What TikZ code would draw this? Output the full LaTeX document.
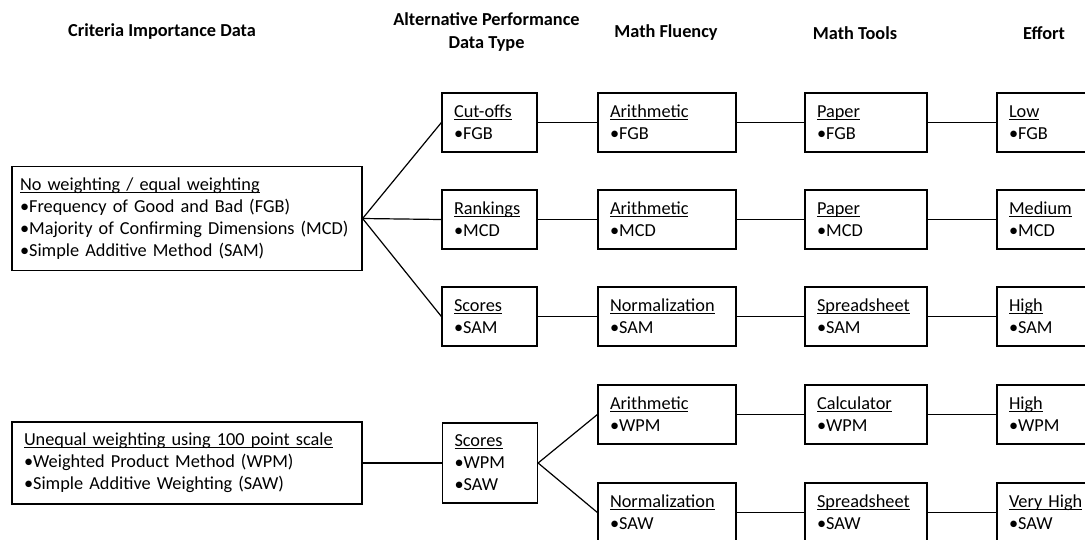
\documentclass[tikz,border=0pt]{standalone}
\usepackage{fontspec}
\setmainfont{Carlito}
\newcommand\uln[1]{\setbox0=\hbox{#1}\rlap{\rule[-2.4pt]{\wd0}{1.1pt}}\box0}
\begin{document}
\begin{tikzpicture}[x=1pt,y=-1pt,
  box/.style={draw, line width=1.2pt, align=left, inner xsep=12pt, inner ysep=0pt,
    font=\fontsize{18.3}{22}\selectfont},
  head/.style={align=center, inner sep=0pt, font=\fontsize{18.3}{24}\selectfont\bfseries},
  conn/.style={line width=1.2pt},
  colA/.style={box, inner xsep=8pt, text width=334pt, minimum width=350pt},
  colB/.style={box, text width=71pt, minimum width=95pt, minimum height=59pt},
  colC/.style={box, text width=114pt, minimum width=138pt, minimum height=59pt},
  colD/.style={box, text width=98pt, minimum width=122pt, minimum height=59pt},
  colE/.style={box, text width=86pt, minimum width=110pt, minimum height=59pt}]
\clip (0,0) rectangle (1085,539);
\fill[white] (0,0) rectangle (1085,539);
% headers
\node[head] (h1) at (162,32) {Criteria Importance Data};
\node[head] (h2) at (486.5,32) {Alternative Performance\\Data Type};
\node[head] (h3) at (666,33) {Math Fluency};
\node[head] (h4) at (855,33) {Math Tools};
\node[head] (h5) at (1044,33) {Effort};
% left boxes
\node[colA, minimum height=104pt] (a1) at (187,218.5)
  {\mbox{\uln{No weighting / equal weighting}}\\\mbox{•Frequency of Good and Bad (FGB)}\\\mbox{•Majority of Confirming Dimensions (MCD)}\\\mbox{•Simple Additive Method (SAM)}};
\node[colA, inner xsep=12pt, text width=326pt, minimum height=82pt] (a2) at (187,463)
  {\mbox{\uln{Unequal weighting using 100 point scale}}\\\mbox{•Weighted Product Method (WPM)}\\\mbox{•Simple Additive Weighting (SAW)}};
% column B
\node[colB] (b1) at (489.5,122.5) {\uln{Cut-offs}\\•FGB};
\node[colB] (b2) at (489.5,219.5) {\uln{Rankings}\\•MCD};
\node[colB] (b3) at (489.5,316.5) {\uln{Scores}\\•SAM};
\node[colB, minimum height=80pt] (b4) at (490,463) {\uln{Scores}\\•WPM\\•SAW};
% column C
\node[colC] (c1) at (667,122.5) {\uln{Arithmetic}\\•FGB};
\node[colC] (c2) at (667,219.5) {\uln{Arithmetic}\\•MCD};
\node[colC] (c3) at (667,316.5) {\uln{Normalization}\\•SAM};
\node[colC] (c4) at (667,414.5) {\uln{Arithmetic}\\•WPM};
\node[colC] (c5) at (667,512.5) {\uln{Normalization}\\•SAW};
% column D
\node[colD] (d1) at (866,122.5) {\uln{Paper}\\•FGB};
\node[colD] (d2) at (866,219.5) {\uln{Paper}\\•MCD};
\node[colD] (d3) at (866,316.5) {\uln{Spreadsheet}\\•SAM};
\node[colD] (d4) at (866,414.5) {\uln{Calculator}\\•WPM};
\node[colD] (d5) at (866,512.5) {\uln{Spreadsheet}\\•SAW};
% column E
\node[colE] (e1) at (1052,122.5) {\uln{Low}\\•FGB};
\node[colE] (e2) at (1052,219.5) {\uln{Medium}\\•MCD};
\node[colE] (e3) at (1052,316.5) {\uln{High}\\•SAM};
\node[colE] (e4) at (1052,414.5) {\uln{High}\\•WPM};
\node[colE] (e5) at (1052,512.5) {\uln{Very High}\\•SAW};
% connectors
\draw[conn] (a1.east) -- (b1.west);
\draw[conn] (a1.east) -- (b2.west);
\draw[conn] (a1.east) -- (b3.west);
\draw[conn] (a2.east) -- (b4.west);
\draw[conn] (b4.east) -- (c4.west);
\draw[conn] (b4.east) -- (c5.west);
\foreach \r in {1,2,3} {
  \draw[conn] (b\r.east) -- (c\r.west);
}
\foreach \r in {1,2,3,4,5} {
  \draw[conn] (c\r.east) -- (d\r.west);
  \draw[conn] (d\r.east) -- (e\r.west);
}
\end{tikzpicture}
\end{document}
